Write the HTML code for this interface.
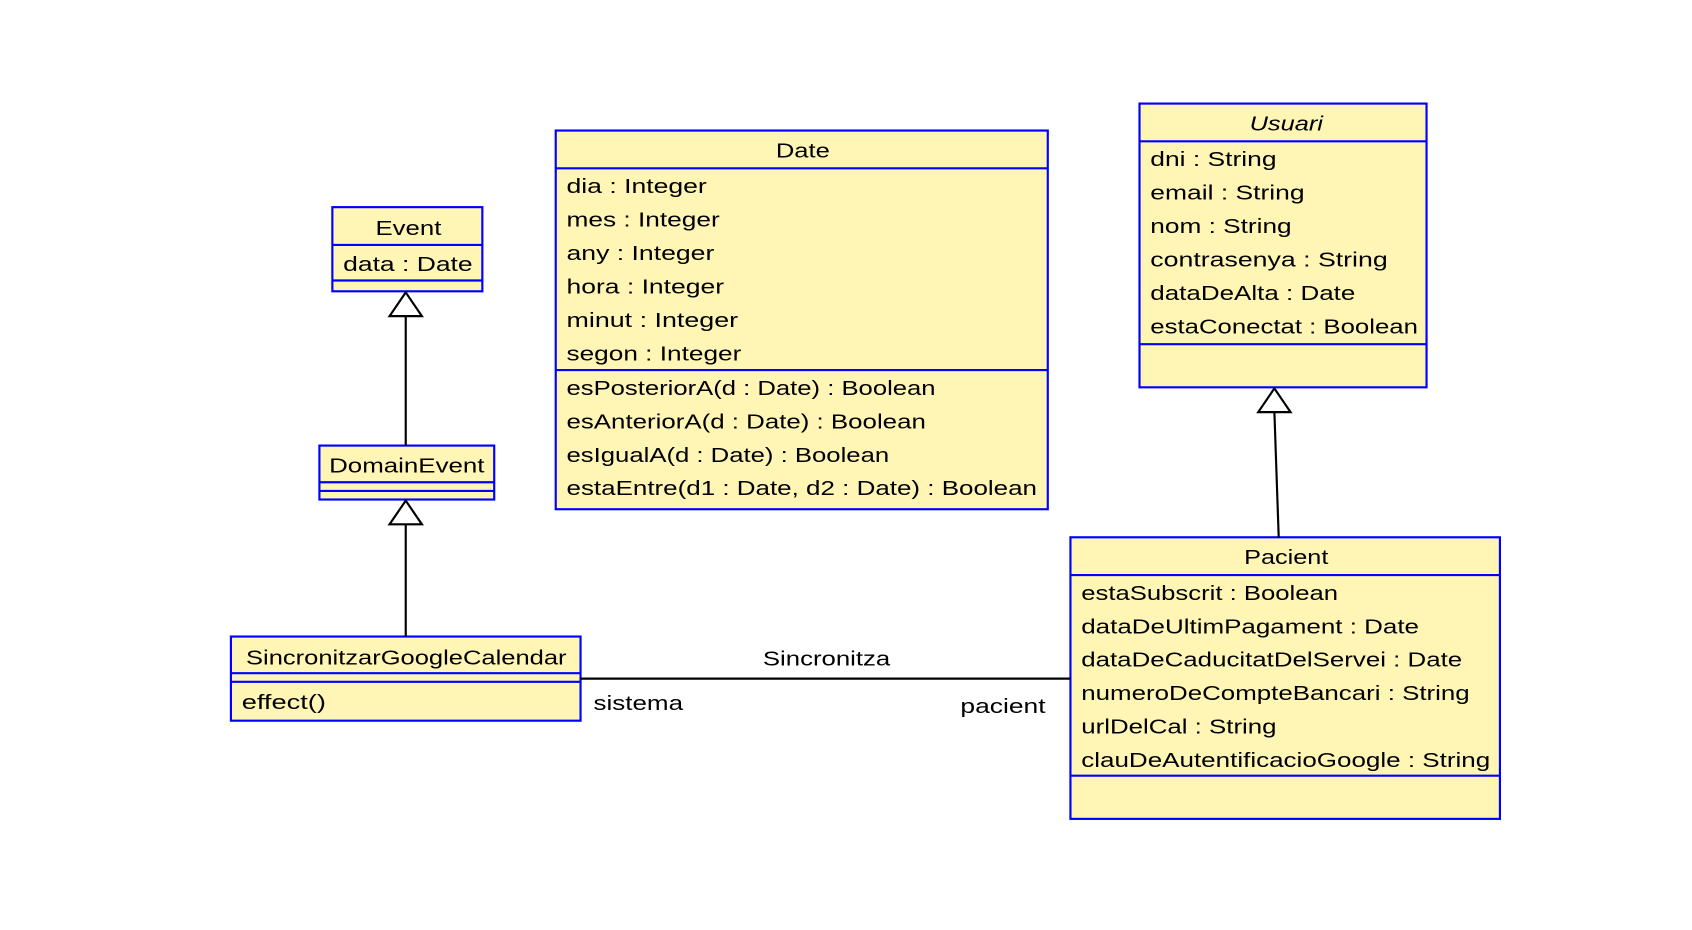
<!DOCTYPE html>
<html><head><meta charset="utf-8"><style>
html,body{margin:0;padding:0;background:#fff;width:1692px;height:930px;overflow:hidden}
svg{display:block}
text{font-family:"Liberation Sans",sans-serif;font-size:19px;fill:#000}
.b{fill:#fff5b5;stroke:#0000ff;stroke-width:2}
.d{stroke:#0000ff;stroke-width:2}
.l{stroke:#000;stroke-width:2;fill:none}
.t{fill:#fff;stroke:#000;stroke-width:2}
</style></head><body>
<svg width="1692" height="930" viewBox="0 0 1568 862" preserveAspectRatio="none">
<!-- Event -->
<rect class="b" x="308" y="192" width="139" height="78"/>
<line class="d" x1="308" y1="227" x2="447" y2="227"/>
<line class="d" x1="308" y1="260" x2="447" y2="260"/>
<text x="348" y="218" textLength="61" lengthAdjust="spacingAndGlyphs">Event</text>
<text x="318" y="251" textLength="120" lengthAdjust="spacingAndGlyphs">data : Date</text>
<!-- DomainEvent -->
<rect class="b" x="296" y="413" width="162" height="50"/>
<line class="d" x1="296" y1="447" x2="458" y2="447"/>
<line class="d" x1="296" y1="455" x2="458" y2="455"/>
<text x="305" y="438" textLength="144" lengthAdjust="spacingAndGlyphs">DomainEvent</text>
<!-- Sincronitzar -->
<rect class="b" x="214" y="590" width="324" height="78"/>
<line class="d" x1="214" y1="624" x2="538" y2="624"/>
<line class="d" x1="214" y1="632" x2="538" y2="632"/>
<text x="228" y="616" textLength="297" lengthAdjust="spacingAndGlyphs">SincronitzarGoogleCalendar</text>
<text x="224" y="657" textLength="78" lengthAdjust="spacingAndGlyphs">effect()</text>
<!-- Date -->
<rect class="b" x="515" y="121" width="456" height="351"/>
<line class="d" x1="515" y1="156" x2="971" y2="156"/>
<line class="d" x1="515" y1="343" x2="971" y2="343"/>
<text x="719" y="146" textLength="50" lengthAdjust="spacingAndGlyphs">Date</text>
<text x="525" y="179" textLength="130" lengthAdjust="spacingAndGlyphs">dia : Integer</text>
<text x="525" y="210" textLength="142" lengthAdjust="spacingAndGlyphs">mes : Integer</text>
<text x="525" y="241" textLength="137" lengthAdjust="spacingAndGlyphs">any : Integer</text>
<text x="525" y="272" textLength="146" lengthAdjust="spacingAndGlyphs">hora : Integer</text>
<text x="525" y="303" textLength="159" lengthAdjust="spacingAndGlyphs">minut : Integer</text>
<text x="525" y="334" textLength="162" lengthAdjust="spacingAndGlyphs">segon : Integer</text>
<text x="525" y="366" textLength="342" lengthAdjust="spacingAndGlyphs">esPosteriorA(d : Date) : Boolean</text>
<text x="525" y="397" textLength="333" lengthAdjust="spacingAndGlyphs">esAnteriorA(d : Date) : Boolean</text>
<text x="525" y="428" textLength="299" lengthAdjust="spacingAndGlyphs">esIgualA(d : Date) : Boolean</text>
<text x="525" y="459" textLength="436" lengthAdjust="spacingAndGlyphs">estaEntre(d1 : Date, d2 : Date) : Boolean</text>
<!-- Usuari -->
<rect class="b" x="1056" y="96" width="266" height="263"/>
<line class="d" x1="1056" y1="131" x2="1322" y2="131"/>
<line class="d" x1="1056" y1="319" x2="1322" y2="319"/>
<text x="1158" y="121" textLength="68" lengthAdjust="spacingAndGlyphs" font-style="italic">Usuari</text>
<text x="1066" y="154" textLength="117" lengthAdjust="spacingAndGlyphs">dni : String</text>
<text x="1066" y="185" textLength="143" lengthAdjust="spacingAndGlyphs">email : String</text>
<text x="1066" y="216" textLength="131" lengthAdjust="spacingAndGlyphs">nom : String</text>
<text x="1066" y="247" textLength="220" lengthAdjust="spacingAndGlyphs">contrasenya : String</text>
<text x="1066" y="278" textLength="190" lengthAdjust="spacingAndGlyphs">dataDeAlta : Date</text>
<text x="1066" y="309" textLength="248" lengthAdjust="spacingAndGlyphs">estaConectat : Boolean</text>
<!-- Pacient -->
<rect class="b" x="992" y="498" width="398" height="261"/>
<line class="d" x1="992" y1="533" x2="1390" y2="533"/>
<line class="d" x1="992" y1="719" x2="1390" y2="719"/>
<text x="1153" y="523" textLength="78" lengthAdjust="spacingAndGlyphs">Pacient</text>
<text x="1002" y="556" textLength="238" lengthAdjust="spacingAndGlyphs">estaSubscrit : Boolean</text>
<text x="1002" y="587" textLength="313" lengthAdjust="spacingAndGlyphs">dataDeUltimPagament : Date</text>
<text x="1002" y="618" textLength="353" lengthAdjust="spacingAndGlyphs">dataDeCaducitatDelServei : Date</text>
<text x="1002" y="649" textLength="360" lengthAdjust="spacingAndGlyphs">numeroDeCompteBancari : String</text>
<text x="1002" y="680" textLength="181" lengthAdjust="spacingAndGlyphs">urlDelCal : String</text>
<text x="1002" y="711" textLength="379" lengthAdjust="spacingAndGlyphs">clauDeAutentificacioGoogle : String</text>
<!-- generalizations -->
<line class="l" x1="376" y1="293" x2="376" y2="413"/>
<polygon class="t" points="376,271 361,293 391,293"/>
<line class="l" x1="376" y1="486" x2="376" y2="590"/>
<polygon class="t" points="376,464 361,486 391,486"/>
<line class="l" x1="1181" y1="382" x2="1185" y2="498"/>
<polygon class="t" points="1181,360 1166,382 1196,382"/>
<!-- association -->
<line class="l" x1="538" y1="629" x2="992" y2="629"/>
<text x="707" y="617" textLength="118" lengthAdjust="spacingAndGlyphs">Sincronitza</text>
<text x="550" y="658" textLength="83" lengthAdjust="spacingAndGlyphs">sistema</text>
<text x="890" y="661" textLength="79" lengthAdjust="spacingAndGlyphs">pacient</text>
</svg>
</body></html>
